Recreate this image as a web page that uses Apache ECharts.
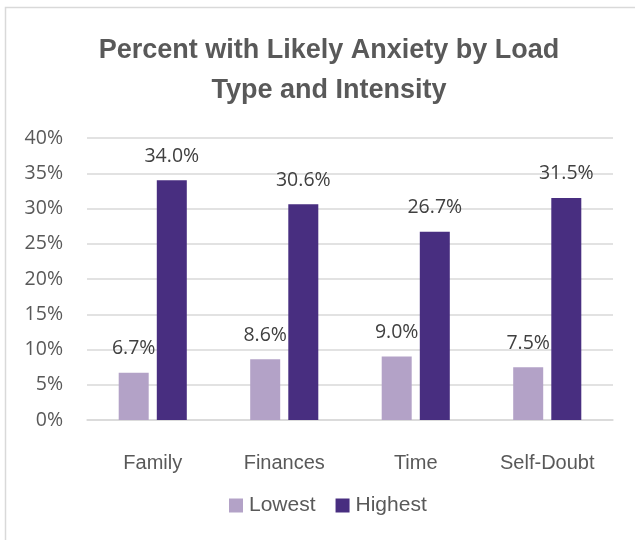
<!DOCTYPE html>
<html>
<head>
<meta charset="utf-8">
<script src="https://cdn.jsdelivr.net/npm/echarts@6/dist/echarts.min.js"></script>
<style>
html,body{margin:0;padding:0;background:#fff;}
#chart{width:635px;height:540px;}
</style>
</head>
<body>
<div id="chart"></div>
<script>
const categories = ['Family', 'Finances', 'Time', 'Self-Doubt'];
const lowest = [6.7, 8.6, 9.0, 7.5];
const highest = [34.0, 30.6, 26.7, 31.5];
const seriesNames = ['Lowest', 'Highest'];
const titleText = 'Percent with Likely Anxiety by Load\nType and Intensity';

const narrow = '"Liberation Sans", Arial, sans-serif';
const segoe = '"Open Sans", "Noto Sans", sans-serif';

const chart = echarts.init(document.getElementById('chart'), null, {renderer: 'canvas'});
const labelStyle = {
  show: true,
  position: 'top',
  distance: 14,
  color: '#404040',
  fontFamily: segoe,
  fontSize: 19.5,
  formatter: p => p.value.toFixed(1) + '%'
};
chart.setOption({
  animation: false,
  backgroundColor: '#fff',
  graphic: [{
    type: 'rect',
    shape: {x: 5.5, y: 7.5, width: 700, height: 600},
    style: {fill: 'none', stroke: '#d9d9d9', lineWidth: 1.5},
    z: -1
  }],
  title: {
    text: titleText,
    left: 324,
    textAlign: 'center',
    top: 26,
    textStyle: {
      fontFamily: narrow,
      fontWeight: 'bold',
      fontSize: 27,
      color: '#595959',
      lineHeight: 40
    }
  },
  legend: {
    data: seriesNames,
    bottom: 19,
    left: 224,
    itemWidth: 14,
    itemHeight: 14,
    itemGap: 20,
    icon: 'rect',
    textStyle: {fontFamily: narrow, fontSize: 21, color: '#595959', padding: [0, 0, 0, 1]}
  },
  grid: {left: 87, right: 22, top: 138, bottom: 120, containLabel: false},
  xAxis: {
    type: 'category',
    data: categories,
    axisLine: {show: true, lineStyle: {color: '#d9d9d9', width: 1.5}},
    axisTick: {show: false},
    axisLabel: {interval: 0, fontFamily: narrow, fontSize: 20, color: '#595959', margin: 33}
  },
  yAxis: {
    type: 'value',
    min: 0,
    max: 40,
    interval: 5,
    axisLine: {show: false},
    axisTick: {show: false},
    splitLine: {lineStyle: {color: '#d9d9d9', width: 1.5}},
    axisLabel: {fontFamily: segoe, fontSize: 19.5, color: '#595959', margin: 24, formatter: v => v + '%'}
  },
  series: [
    {name: seriesNames[0], type: 'bar', data: lowest, barWidth: 30, barGap: '27%',
     itemStyle: {color: '#b3a2c7'}, label: labelStyle},
    {name: seriesNames[1], type: 'bar', data: highest, barWidth: 30, barGap: '27%',
     itemStyle: {color: '#482e80'}, label: labelStyle}
  ]
});
</script>
</body>
</html>
